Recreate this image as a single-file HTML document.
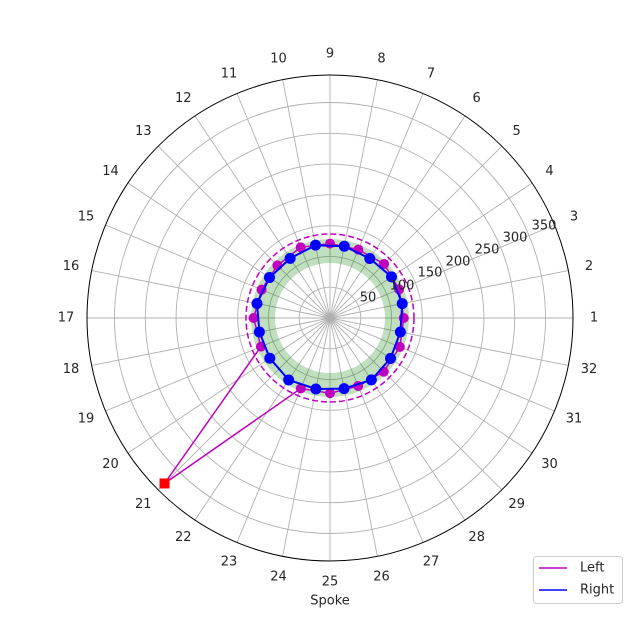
<!DOCTYPE html>
<html><head><meta charset="utf-8"><style>
html,body{margin:0;padding:0;background:#fff;}
svg{display:block;font-family:"DejaVu Sans","Liberation Sans",sans-serif;}
</style></head><body>
<svg id="s" width="644" height="630" viewBox="0 0 644 630" xmlns="http://www.w3.org/2000/svg">
<rect width="644" height="630" fill="#fff"/>
<g id="grid"></g>
<g id="data"></g>
<g font-size="13" fill="#262626" text-anchor="middle" dominant-baseline="central">
<text x="594" y="318">1</text><text x="589" y="266.5">2</text><text x="574" y="217">3</text><text x="549.5" y="171.3">4</text>
<text x="516.7" y="131.3">5</text><text x="476.7" y="98.5">6</text><text x="431" y="74.1">7</text><text x="381.5" y="59.1">8</text>
<text x="330" y="54">9</text><text x="278.5" y="59.1">10</text><text x="229" y="74.1">11</text><text x="183.3" y="98.5">12</text>
<text x="143.3" y="131.3">13</text><text x="110.5" y="171.3">14</text><text x="86" y="217">15</text><text x="71" y="266.5">16</text>
<text x="66" y="318">17</text><text x="71" y="369.5">18</text><text x="86" y="419">19</text><text x="110.5" y="464.7">20</text>
<text x="143.3" y="504.7">21</text><text x="183.3" y="537.5">22</text><text x="229" y="561.9">23</text><text x="278.5" y="576.9">24</text>
<text x="330" y="582">25</text><text x="381.5" y="576.9">26</text><text x="431" y="561.9">27</text><text x="476.7" y="537.5">28</text>
<text x="516.7" y="504.7">29</text><text x="549.5" y="464.7">30</text><text x="574" y="419">31</text><text x="589" y="369.5">32</text>
<text x="368" y="298">50</text><text x="402" y="286">100</text><text x="430" y="273">150</text><text x="458" y="262">200</text>
<text x="487" y="250">250</text><text x="515" y="238">300</text><text x="544" y="226">350</text>
<text x="330" y="601">Spoke</text>
</g>
<g>
<rect x="533.5" y="556.5" width="89" height="47" rx="3" fill="#fff" stroke="#ccc"/>
<line x1="539" y1="568" x2="567" y2="568" stroke="#bf00bf" stroke-width="1.5"/>
<line x1="539" y1="590" x2="567" y2="590" stroke="#0000ff" stroke-width="1.5"/>
<text x="580" y="568" font-size="13" fill="#262626" dominant-baseline="central">Left</text>
<text x="580" y="590" font-size="13" fill="#262626" dominant-baseline="central">Right</text>
</g>
</svg>
<script>
var NS="http://www.w3.org/2000/svg",cx=330,cy=318,R=243,sc=0.6157;
function el(p,t,a){var e=document.createElementNS(NS,t);for(var k in a)e.setAttribute(k,a[k]);p.appendChild(e);return e;}
var g=document.getElementById('grid'),d=document.getElementById('data');
function P(k,r){var a=(k-1)*11.25*Math.PI/180;return [cx+r*Math.cos(a),cy-r*Math.sin(a)];}
for(var v=50;v<=350;v+=50)el(g,'circle',{cx:cx,cy:cy,r:v*sc,fill:'none',stroke:'#b0b0b0','stroke-width':0.9});
for(var k=1;k<=32;k++){var p=P(k,R);el(g,'line',{x1:cx,y1:cy,x2:p[0],y2:p[1],stroke:'#b0b0b0','stroke-width':0.9});}
el(g,'circle',{cx:cx,cy:cy,r:R,fill:'none',stroke:'#000','stroke-width':1});
el(d,'circle',{cx:cx,cy:cy,r:67,fill:'none',stroke:'#008000','stroke-width':24,'stroke-opacity':0.25});
el(d,'circle',{cx:cx,cy:cy,r:84,fill:'none',stroke:'#bf00bf','stroke-width':1.5,'stroke-dasharray':'6,3'});
var mp=[];
for(var k=1;k<=31;k+=2){var r=(k==21)?234:75-1.5*Math.sin(k);mp.push(P(k,r));}
var s='';mp.forEach(function(p,i){s+=(i?'L':'M')+p[0].toFixed(1)+','+p[1].toFixed(1);});s+='Z';
el(d,'path',{d:s,fill:'none',stroke:'#bf00bf','stroke-width':1.5});
mp.forEach(function(p,i){if(i!=10)el(d,'circle',{cx:p[0],cy:p[1],r:5,fill:'#bf00bf'});});
var bp=[];
for(var k=2;k<=32;k+=2){bp.push(P(k,73-1.5*Math.cos(k)));}
s='';bp.forEach(function(p,i){s+=(i?'L':'M')+p[0].toFixed(1)+','+p[1].toFixed(1);});s+='Z';
el(d,'path',{d:s,fill:'none',stroke:'#0000ff','stroke-width':2});
bp.forEach(function(p){el(d,'circle',{cx:p[0],cy:p[1],r:5.5,fill:'#0000ff'});});
var q=mp[10];el(d,'rect',{x:q[0]-5,y:q[1]-5,width:10,height:10,fill:'#ff0000'});
</script>
</body></html>
